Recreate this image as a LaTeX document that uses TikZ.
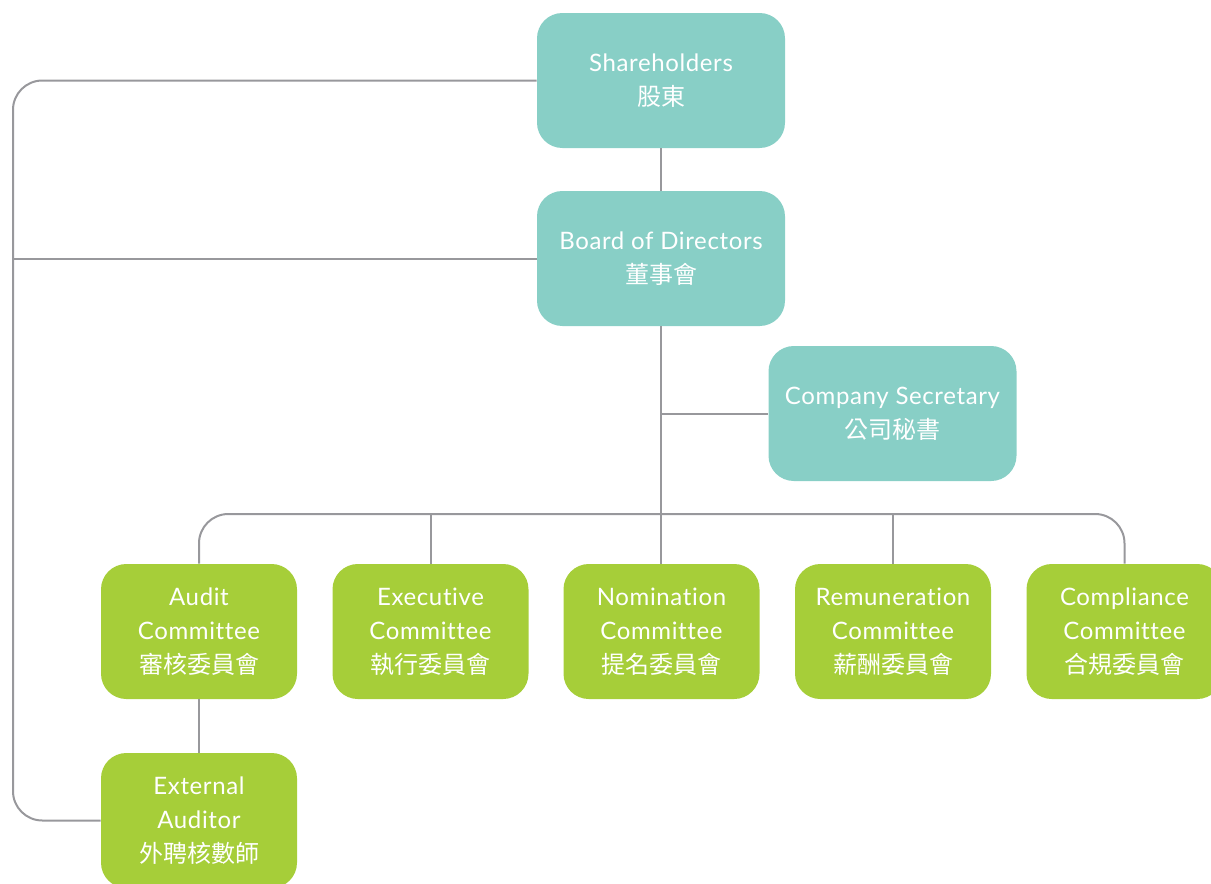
\documentclass[tikz,border=0pt]{standalone}
\usepackage{fontspec}
\setmainfont[LetterSpace=2.6, Ligatures={NoCommon,NoRare}]{Lato}
\newfontfamily\cjk{Noto Sans CJK TC}
\usepackage{tikz}
\usetikzlibrary{calc}
\definecolor{teal}{HTML}{88CFC6}
\definecolor{lime}{HTML}{A6CE39}
\definecolor{wire}{HTML}{98989C}

\begin{document}
\begin{tikzpicture}[x=0.75pt, y=-0.75pt,
		box/.style={rounded corners=19pt, text=white, align=center, font=\fontsize{18}{25.5}\selectfont, inner sep=0pt},
		topbox/.style={box, fill=teal, minimum width=186pt, minimum height=101.25pt},
		subbox/.style={box, fill=lime, minimum width=147pt, minimum height=101.25pt},
		link/.style={draw=wire, line width=1.5pt, rounded corners=22pt}]
			%%%%% START %%%%%
			
			\useasboundingbox (0, 0) rectangle (1211, 883);
			
			\node[topbox] (share) at (661, 80.5) {Shareholders\\{\cjk 股東}};
			\node[topbox] (board) at (661, 258.5) {Board of Directors\\{\cjk 董事會}};
			\node[topbox] (sec) at (892.5, 413.5) {Company Secretary\\{\cjk 公司秘書}};
			
			\node[subbox] (audit) at (199, 631.5) {Audit\\Committee\\{\cjk 審核委員會}};
			\node[subbox] (exec) at (430.5, 631.5) {Executive\\Committee\\{\cjk 執行委員會}};
			\node[subbox] (nom) at (661.5, 631.5) {Nomination\\Committee\\{\cjk 提名委員會}};
			\node[subbox] (rem) at (893, 631.5) {Remuneration\\Committee\\{\cjk 薪酬委員會}};
			\node[subbox] (comp) at (1124.5, 631.5) {Compliance\\Committee\\{\cjk 合規委員會}};
			
			\node[subbox] (ext) at (199, 820.5) {External\\Auditor\\{\cjk 外聘核數師}};
			
			\coordinate (rail) at (13, 0);
			\coordinate (bus) at (0, 514);
			
			\draw[link] (share.west) -- (share.west -| rail) -- (ext.west -| rail) -- (ext.west);
			\draw[link] (board.west) -- (board.west -| rail);
			\draw[link] (share.south) -- (board.north);
			\draw[link] (board.south) -- (board.south |- nom.north);
			\draw[link] (board.south |- sec.west) -- (sec.west);
			\draw[link] (audit.north) -- (audit.north |- bus) -- (comp.north |- bus) -- (comp.north);
			\draw[link] (exec.north) -- (exec.north |- bus);
			\draw[link] (rem.north) -- (rem.north |- bus);
			\draw[link] (audit.south) -- (ext.north);
			
			%%%%% END %%%%%
		\end{tikzpicture}
\end{document}
